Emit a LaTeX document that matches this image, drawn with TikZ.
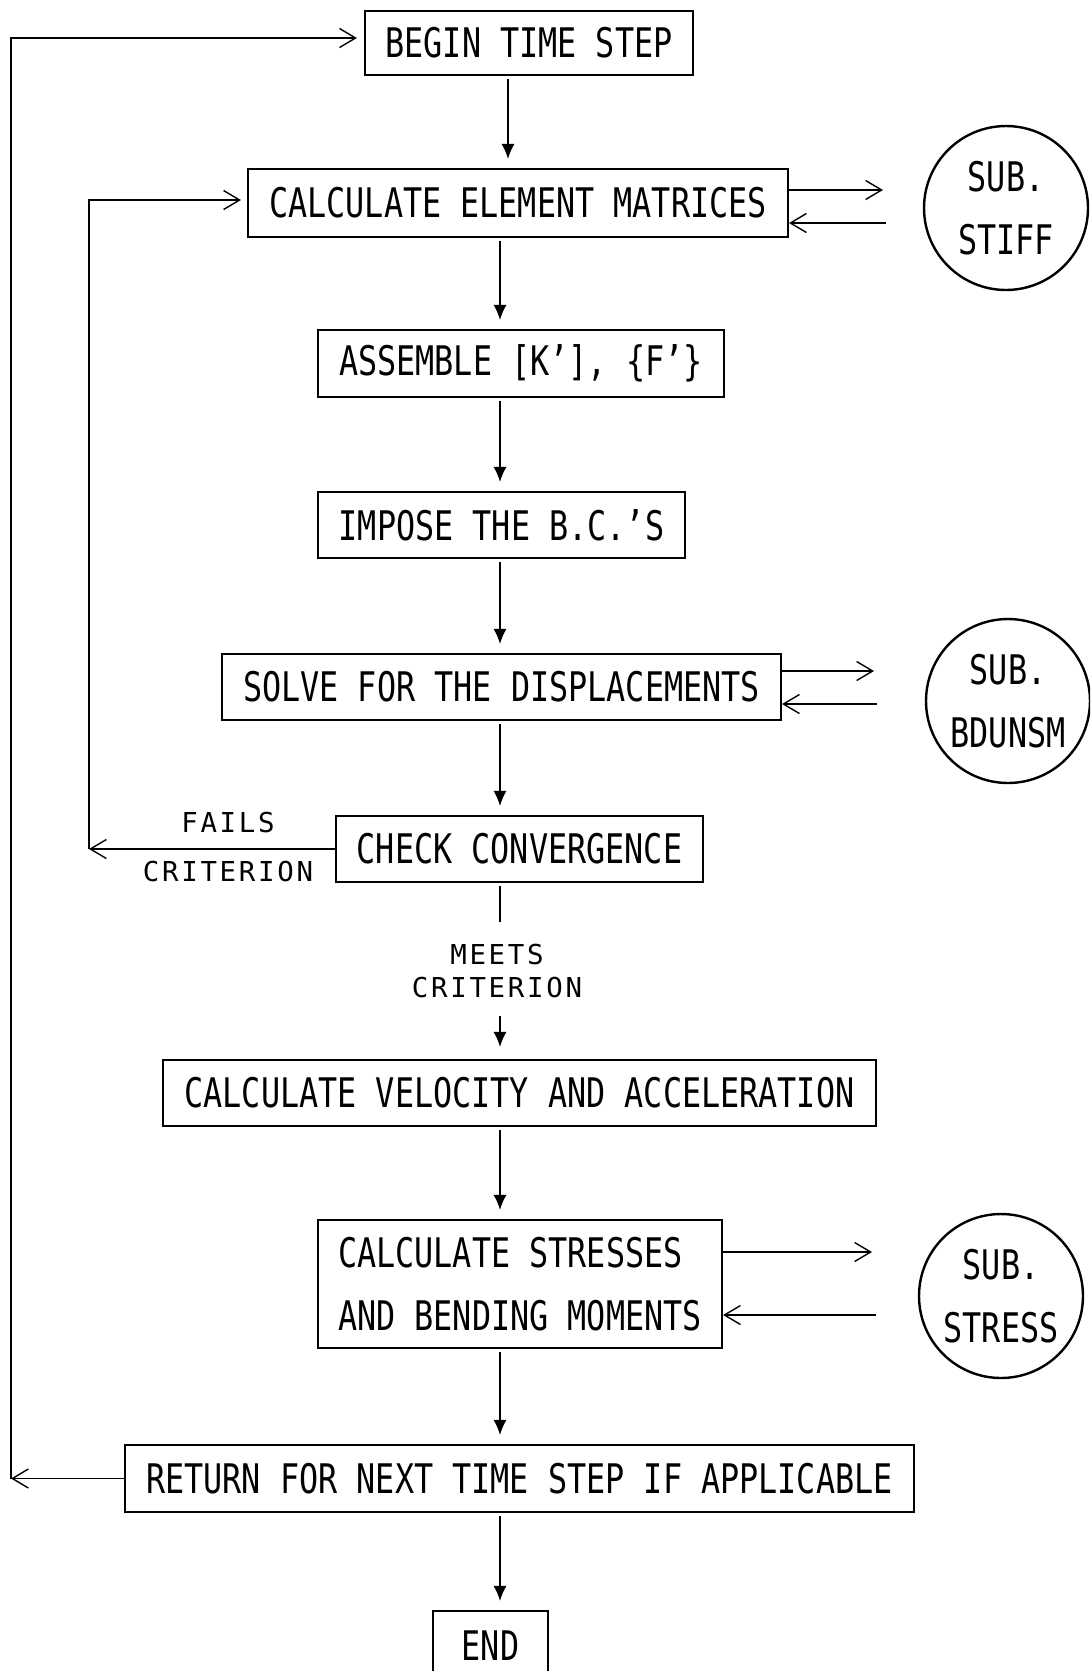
\documentclass[tikz,border=0pt]{standalone}
\usepackage{fontspec}
\newfontfamily\plotfont{DejaVu Sans Mono}[FakeStretch=0.78]
\newfontfamily\plotsmall{DejaVu Sans Mono}[LetterSpace=10]
\usetikzlibrary{arrows.meta}

\begin{document}
\begin{tikzpicture}[
    x=0.02cm, y=-0.02cm,
    every node/.style={font=\plotfont\fontsize{23.2}{36}\selectfont},
    stepbox/.style={draw, rectangle, line width=0.044cm, inner sep=0pt},
    subcircle/.style={draw, circle, line width=0.048cm, minimum size=3.28cm, align=center, inner sep=0pt},
    cond/.style={font=\plotsmall\fontsize{15.6}{18.8}\selectfont, inner sep=0pt, align=center},
    flow/.style={line width=0.028cm, -{Latex[length=0.3cm, width=0.26cm]}, shorten <=0.06cm, shorten >=0.18cm},
    call/.style={line width=0.028cm, -{Straight Barb[length=0.32cm, width=0.38cm]}},
    link/.style={line width=0.028cm}
]
    \useasboundingbox (0,0) rectangle (1090,1671);
    \clip (0,0) rectangle (1090,1671);

    % main column
    \node[stepbox, minimum width=6.56cm, minimum height=1.28cm] (begin) at (529,43) {BEGIN TIME STEP};
    \node[stepbox, minimum width=10.8cm, minimum height=1.36cm] (calc) at (518,203) {CALCULATE ELEMENT MATRICES};
    \node[stepbox, minimum width=8.12cm, minimum height=1.34cm] (assem) at (521,363.5) {ASSEMBLE [K’], \{F’\}};
    \node[stepbox, minimum width=7.34cm, minimum height=1.32cm] (impose) at (501.5,525) {IMPOSE THE B.C.’S};
    \node[stepbox, minimum width=11.18cm, minimum height=1.32cm] (solve) at (501.5,687) {SOLVE FOR THE DISPLACEMENTS};
    \node[stepbox, minimum width=7.34cm, minimum height=1.32cm] (check) at (519.5,849) {CHECK CONVERGENCE};
    \node[stepbox, minimum width=14.26cm, minimum height=1.32cm] (vel) at (519.5,1093) {CALCULATE VELOCITY AND ACCELERATION};
    \node[stepbox, minimum width=8.08cm, minimum height=2.56cm, align=left] (stress) at (520,1284) {CALCULATE STRESSES\\AND BENDING MOMENTS};
    \node[stepbox, minimum width=15.78cm, minimum height=1.34cm] (ret) at (519.5,1478.5) {RETURN FOR NEXT TIME STEP IF APPLICABLE};
    \node[stepbox, minimum width=2.3cm, minimum height=1.4cm] (endb) at (490.5,1646) {END};

    % subroutines
    \node[subcircle] (stiff) at (1006,208) {SUB.\\STIFF};
    \node[subcircle] (bdunsm) at (1008,701) {SUB.\\BDUNSM};
    \node[subcircle] (substress) at (1001,1296) {SUB.\\STRESS};

    % condition labels
    \node[cond] (fails) at (228,823) {FAILS};
    \node[cond] (failcrit) at (228,872) {CRITERION};
    \node[cond] (meets) at (497,971) {MEETS\\CRITERION};

    \coordinate (spine) at (500,0);
    \coordinate (spinetop) at (508,0);

    \draw[flow] (begin.south -| spinetop) -- (calc.north -| spinetop);
    \foreach \a/\b in {calc/assem, assem/impose, impose/solve, solve/check, vel/stress, stress/ret, ret/endb}
        \draw[flow] (\a.south -| spine) -- (\b.north -| spine);
    \draw[link, shorten <=0.06cm, shorten >=0.44cm] (check.south -| spine) -- (meets.north -| spine);
    \draw[flow, shorten <=0.36cm, shorten >=0.24cm] (meets.south -| spine) -- (vel.north -| spine);

    % calls to the subroutines
    \coordinate (stiffin) at (883,190);
    \coordinate (stiffout) at (886,223);
    \coordinate (bdin) at (874,671);
    \coordinate (bdout) at (877,704);
    \coordinate (strin) at (872,1252);
    \coordinate (strout) at (876,1315);
    \draw[call] (calc.east |- stiffin) -- (stiffin);
    \draw[call] (stiffout) -- (calc.east |- stiffout);
    \draw[call] (solve.east |- bdin) -- (bdin);
    \draw[call] (bdout) -- (solve.east |- bdout);
    \draw[call] (stress.east |- strin) -- (strin);
    \draw[call] (strout) -- (stress.east |- strout);

    % loops back
    \coordinate (innerlow) at (89,849);
    \coordinate (innertop) at (89,200);
    \draw[call] (check.west) -- (innerlow);
    \draw[call, shorten >=0.12cm] (innerlow) -- (innertop) -- (calc.west |- innertop);

    \coordinate (outerlow) at (11,1478.5);
    \coordinate (outertop) at (11,38);
    \draw[call] (ret.west) -- (outerlow);
    \draw[call, shorten >=0.14cm] (outerlow) -- (outertop) -- (begin.west |- outertop);
\end{tikzpicture}
\end{document}
